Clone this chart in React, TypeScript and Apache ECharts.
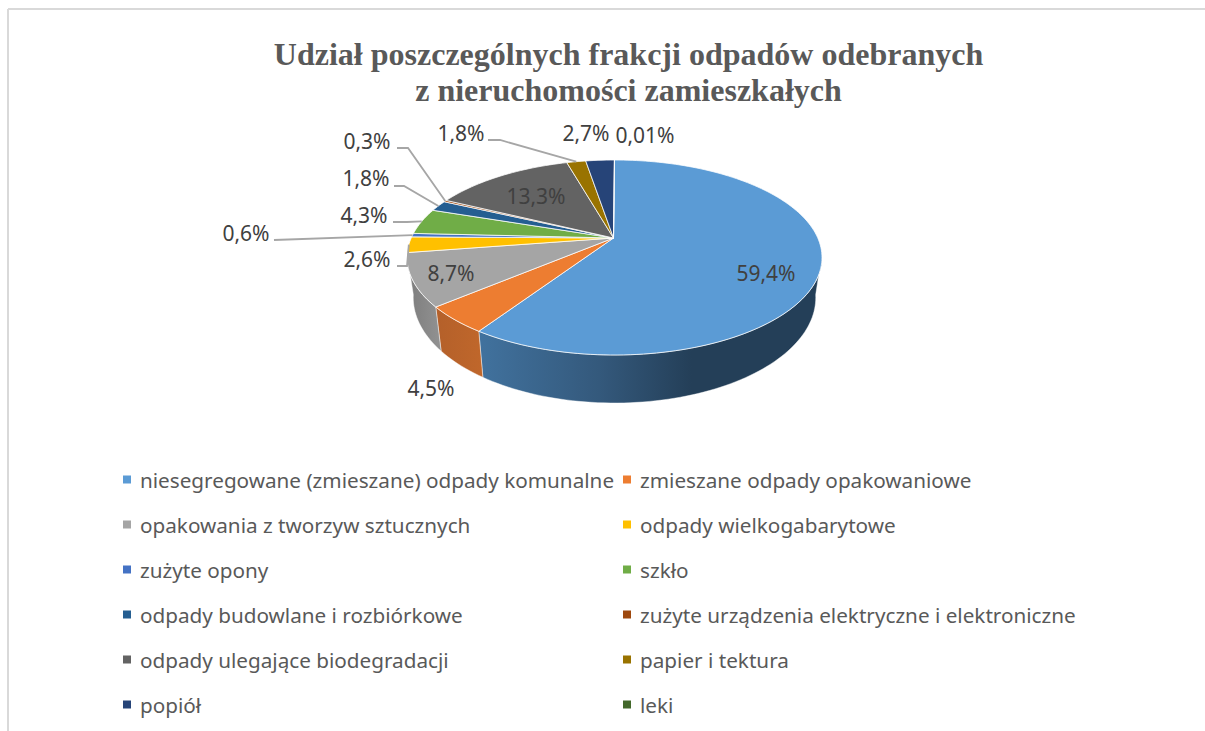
import React, { useEffect, useRef } from "react";
import * as echarts from "echarts";

const titleLines = [
  "Udział poszczególnych frakcji odpadów odebranych",
  "z nieruchomości zamieszkałych",
];
const categories = [
  "niesegregowane (zmieszane) odpady komunalne",
  "zmieszane odpady opakowaniowe",
  "opakowania z tworzyw sztucznych",
  "odpady wielkogabarytowe",
  "zużyte opony",
  "szkło",
  "odpady budowlane i rozbiórkowe",
  "zużyte urządzenia elektryczne i elektroniczne",
  "odpady ulegające biodegradacji",
  "papier i tektura",
  "popiół",
  "leki",
];
const shares = [59.4, 4.5, 8.7, 2.6, 0.6, 4.3, 1.8, 0.3, 13.3, 1.8, 2.7, 0.01];
const colors = [
  "#5B9BD5", "#ED7D31", "#A5A5A5", "#FFC000", "#4472C4", "#70AD47",
  "#255E91", "#9E480E", "#636363", "#997300", "#264478", "#43682B",
];

// layout only: label centres and leader elbows, by slice index
const labelPos: [number, number][] = [
  [766, 273], [431, 388], [451, 273], [367, 259], [246, 233], [364, 215],
  [366, 178], [367, 141], [536, 196], [461, 133], [586, 133], [645, 135],
];
const leaderHead: Record<number, [number, number][]> = {
  3: [[397, 266], [407, 266]],
  4: [[274, 240]],
  5: [[393, 222], [407, 222]],
  6: [[394, 186], [404, 186]],
  7: [[397, 148], [408, 148]],
  9: [[488, 140], [500, 140]],
};

const TEXT = "#595959";
const LABEL_TEXT = "#404040";
const FONT = '"Noto Sans"';

// Projective view of a tilted disc
const CX = 614.5;
const APEX_X = 613.5;
const APEX_Y = 238;
const K = 203.3;
const TILT = 0.2;
const DEPTH = 38.4;
const SHRINK = 0.97;
const SIDE_FROM = 100;
const SIDE_TO = 260;

const rimTop = (deg: number): [number, number] => {
  const t = (deg * Math.PI) / 180;
  const u = Math.sin(t);
  const v = -Math.cos(t);
  const d = 1 - TILT * v;
  return [CX + (K * u) / d, (46 * v + APEX_Y) / d];
};
const rimBottom = (deg: number): [number, number] => {
  const t = (deg * Math.PI) / 180;
  const u = Math.sin(t);
  const v = -Math.cos(t);
  const d = 1 - TILT * v;
  return [CX + (SHRINK * K * u) / d, (46 * v + APEX_Y) / d + DEPTH / d];
};
const arc = (f: (a: number) => [number, number], a: number, b: number) => {
  const n = Math.max(2, Math.ceil(Math.abs(b - a) / 1.5));
  const pts: [number, number][] = [];
  for (let i = 0; i <= n; i++) pts.push(f(a + ((b - a) * i) / n));
  return pts;
};

const total = shares.reduce((s, v) => s + v, 0);
const sideFill = (i: number) => {
  if (i === 0)
    return new echarts.graphic.LinearGradient(0, 0, 1, 0, [
      { offset: 0, color: "#41729E" },
      { offset: 0.35, color: "#34597C" },
      { offset: 0.62, color: "#243F58" },
      { offset: 1, color: "#243F58" },
    ]);
  if (i === 1)
    return new echarts.graphic.LinearGradient(0, 0, 1, 0, [
      { offset: 0, color: "#B4602A" },
      { offset: 1, color: "#C0672B" },
    ]);
  return new echarts.graphic.LinearGradient(0, 0, 1, 0, [
    { offset: 0, color: "#7C7C7C" },
    { offset: 1, color: "#929292" },
  ]);
};

const renderSlice = (index: number) => (_params: any, api: any) => {
  const share = api.value(0);
  const before = api.value(1);
  const a0 = (before / total) * 360;
  const a1 = ((before + share) / total) * 360;
  const children: any[] = [];

  const s0 = Math.max(a0, SIDE_FROM);
  const s1 = Math.min(a1, SIDE_TO);
  if (s1 > s0) {
    const pts = [...arc(rimTop, s0, s1), ...arc(rimBottom, s0, s1).reverse()];
    children.push({
      type: "polygon",
      shape: { points: pts },
      style: { fill: sideFill(index), stroke: "rgba(255,255,255,0.55)", lineWidth: 0.8 },
      z2: 1,
    });
  }
  children.push({
    type: "polygon",
    shape: { points: [[APEX_X, APEX_Y], ...arc(rimTop, a0, a1)] },
    style: { fill: colors[index], stroke: "rgba(255,255,255,0.85)", lineWidth: 0.9 },
    z2: 2,
  });
  const head = leaderHead[index];
  if (head) {
    children.push({
      type: "polyline",
      shape: { points: [...head, rimTop((a0 + a1) / 2)] },
      style: { fill: "none", stroke: "#A6A6A6", lineWidth: 1.8 },
      z2: 3,
    });
  }
  const [lx, ly] = labelPos[index];
  children.push({
    type: "text",
    x: lx,
    y: ly,
    style: {
      text: String(share).replace(".", ",") + "%",
      fill: LABEL_TEXT,
      font: `21px ${FONT}`,
      align: "center",
      verticalAlign: "middle",
    },
    z2: 4,
  });
  return { type: "group", children };
};

const legendLeft = categories.filter((_, i) => i % 2 === 0);
const legendRight = categories.filter((_, i) => i % 2 === 1);

export default function App() {
  const ref = useRef<HTMLDivElement>(null);
  useEffect(() => {
    document.body.style.margin = "0";
    document.body.style.overflow = "hidden";
    const chart = echarts.init(ref.current!, undefined, { renderer: "svg" });
    let run = 0;
    const series = shares.map((v, i) => {
      const before = run;
      run += v;
      return {
        type: "custom",
        name: categories[i],
        coordinateSystem: "none",
        data: [[v, before]],
        itemStyle: { color: colors[i] },
        renderItem: renderSlice(i),
        silent: true,
      };
    });
    const legendBase = {
      orient: "vertical",
      icon: "rect",
      itemWidth: 8,
      itemHeight: 8,
      itemGap: 24,
      top: 469,
      padding: 0,
      selectedMode: false,
      textStyle: {
        color: TEXT,
        fontFamily: "Noto Sans",
        fontSize: 20.7,
        lineHeight: 20,
        padding: [0, 0, 0, 4],
      },
    };
    chart.setOption({
      animation: false,
      backgroundColor: "#ffffff",
      legend: [
        { ...legendBase, left: 123, data: legendLeft },
        { ...legendBase, left: 623, data: legendRight },
      ],
      graphic: [
        { type: "line", shape: { x1: 8, y1: 9, x2: 1205, y2: 9 }, style: { stroke: "#D9D9D9", lineWidth: 2 }, silent: true },
        { type: "line", shape: { x1: 8, y1: 9, x2: 8, y2: 731 }, style: { stroke: "#D9D9D9", lineWidth: 2 }, silent: true },
        {
          type: "text", x: 628.5, y: 54,
          style: { text: titleLines[0], fill: TEXT, font: 'bold 32px "Liberation Serif"', align: "center", verticalAlign: "middle" },
        },
        {
          type: "text", x: 628.5, y: 90,
          style: { text: titleLines[1], fill: TEXT, font: 'bold 32px "Liberation Serif"', align: "center", verticalAlign: "middle" },
        },
      ],
      series,
    });
    return () => chart.dispose();
  }, []);
  return <div ref={ref} style={{ position: "fixed", left: 0, top: 0, width: 1205, height: 731 }} />;
}
